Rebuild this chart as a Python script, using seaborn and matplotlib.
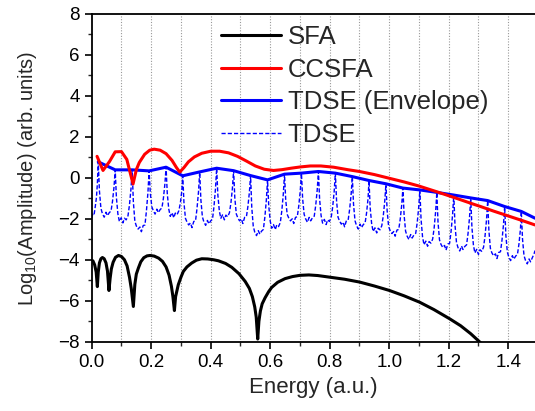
import matplotlib
matplotlib.use("Agg")
import matplotlib.pyplot as plt
import seaborn as sns
from matplotlib.ticker import MultipleLocator

# ---- data ----
sfa_x = [0.004, 0.010, 0.015, 0.019,
         0.022, 0.026, 0.031, 0.036, 0.042, 0.048, 0.053, 0.058,
         0.062, 0.066, 0.072, 0.080, 0.090, 0.100, 0.110, 0.119, 0.127, 0.133, 0.140,
         0.145, 0.150, 0.157, 0.165, 0.175, 0.186, 0.196, 0.210, 0.225, 0.238, 0.250, 0.260, 0.268, 0.273, 0.278,
         0.282, 0.291, 0.300, 0.308, 0.320, 0.336, 0.352, 0.370, 0.390, 0.410, 0.426, 0.450, 0.471, 0.495,
         0.516, 0.530, 0.540, 0.548, 0.553, 0.558,
         0.562, 0.567, 0.573, 0.583, 0.595, 0.605, 0.625, 0.650, 0.675, 0.700, 0.730, 0.760, 0.800,
         0.850, 0.901, 0.950, 1.001, 1.050, 1.102, 1.150, 1.203, 1.240, 1.274, 1.307, 1.340]
sfa_y = [-4.05, -4.25, -4.60, -5.31,
         -4.60, -4.15, -3.95, -3.89, -3.95, -4.15, -4.55, -5.50,
         -4.90, -4.45, -4.12, -3.88, -3.79, -3.84, -4.00, -4.30, -4.85, -5.40, -6.28,
         -5.20, -4.70, -4.40, -4.10, -3.90, -3.81, -3.79, -3.82, -3.92, -4.08, -4.35, -4.75, -5.30, -5.80, -6.48,
         -5.80, -5.22, -4.85, -4.57, -4.35, -4.16, -4.02, -3.95, -3.96, -4.00, -4.05, -4.18, -4.37, -4.68,
         -5.06, -5.40, -5.80, -6.30, -6.80, -7.87,
         -7.00, -6.50, -6.15, -5.85, -5.55, -5.35, -5.10, -4.92, -4.82, -4.76, -4.74, -4.77, -4.85,
         -4.95, -5.09, -5.28, -5.50, -5.76, -6.07, -6.43, -6.88, -7.22, -7.61, -8.05, -8.50]

ccsfa_x = [0.018, 0.038, 0.060, 0.079, 0.100, 0.118, 0.139, 0.150, 0.160, 0.178, 0.195,
           0.210, 0.230, 0.250, 0.270, 0.285, 0.296, 0.310, 0.325, 0.345, 0.370, 0.400,
           0.430, 0.460, 0.490, 0.520, 0.550, 0.580, 0.611, 0.640, 0.670, 0.700, 0.735,
           0.770, 0.813, 0.860, 0.900, 0.950, 1.000, 1.050, 1.100, 1.160, 1.220, 1.280,
           1.307, 1.350, 1.400, 1.450, 1.490]
ccsfa_y = [1.05, 0.36, 0.80, 1.27, 1.28, 0.90, -0.30, 0.40, 0.75, 1.15, 1.35,
           1.40, 1.35, 1.18, 0.85, 0.50, 0.28, 0.50, 0.78, 1.02, 1.20, 1.30,
           1.30, 1.22, 1.05, 0.82, 0.58, 0.42, 0.36, 0.40, 0.47, 0.53, 0.58,
           0.58, 0.52, 0.40, 0.31, 0.16, -0.02, -0.20, -0.40, -0.68, -0.97, -1.27,
           -1.40, -1.62, -1.86, -2.10, -2.30]

env_x = [0.022, 0.079, 0.136, 0.193, 0.250, 0.306, 0.363, 0.420, 0.477, 0.534, 0.591,
         0.648, 0.705, 0.762, 0.819, 0.876, 0.932, 0.989, 1.046, 1.103, 1.160, 1.217,
         1.274, 1.331, 1.388, 1.444, 1.490]
env_y = [0.78, 0.39, 0.39, 0.34, 0.52, 0.10, 0.29, 0.47, 0.35, 0.11, -0.10,
         0.18, 0.23, 0.31, 0.23, 0.06, -0.13, -0.29, -0.50, -0.59, -0.71, -0.84,
         -0.98, -1.11, -1.40, -1.64, -1.97]

tdse_x = [0.000, 0.004, 0.008, 0.012, 0.016, 0.019,
          0.022, 0.026, 0.031, 0.036, 0.042, 0.048, 0.053, 0.059, 0.065, 0.070, 0.075,
          0.079, 0.083, 0.088, 0.093, 0.099, 0.105, 0.110, 0.116, 0.122, 0.127, 0.132,
          0.136, 0.140, 0.145, 0.150, 0.156, 0.162, 0.167, 0.173, 0.179, 0.184, 0.189,
          0.193, 0.197, 0.202, 0.207, 0.213, 0.219, 0.224, 0.230, 0.236, 0.241, 0.246,
          0.250, 0.254, 0.259, 0.264, 0.270, 0.276, 0.281, 0.287, 0.293, 0.298, 0.303,
          0.306, 0.310, 0.315, 0.320, 0.326, 0.332, 0.337, 0.343, 0.349, 0.354, 0.359,
          0.363, 0.367, 0.372, 0.377, 0.383, 0.389, 0.394, 0.400, 0.406, 0.411, 0.416,
          0.420, 0.424, 0.429, 0.434, 0.440, 0.446, 0.451, 0.457, 0.463, 0.468, 0.473,
          0.477, 0.481, 0.486, 0.491, 0.497, 0.503, 0.508, 0.514, 0.520, 0.525, 0.530,
          0.534, 0.538, 0.543, 0.548, 0.554, 0.560, 0.565, 0.571, 0.577, 0.582, 0.587,
          0.591, 0.595, 0.600, 0.605, 0.611, 0.617, 0.622, 0.628, 0.634, 0.639, 0.644,
          0.648, 0.652, 0.657, 0.662, 0.668, 0.674, 0.679, 0.685, 0.691, 0.696, 0.701,
          0.705, 0.709, 0.714, 0.719, 0.725, 0.731, 0.736, 0.742, 0.748, 0.753, 0.758,
          0.762, 0.766, 0.771, 0.776, 0.782, 0.788, 0.793, 0.799, 0.805, 0.810, 0.815,
          0.819, 0.823, 0.828, 0.833, 0.839, 0.845, 0.850, 0.856, 0.862, 0.867, 0.872,
          0.876, 0.880, 0.885, 0.890, 0.896, 0.902, 0.907, 0.913, 0.919, 0.924, 0.929,
          0.932, 0.936, 0.941, 0.946, 0.952, 0.958, 0.963, 0.969, 0.975, 0.980, 0.985,
          0.989, 0.993, 0.998, 1.003, 1.009, 1.015, 1.020, 1.026, 1.032, 1.037, 1.042,
          1.046, 1.050, 1.055, 1.060, 1.066, 1.072, 1.077, 1.083, 1.089, 1.094, 1.099,
          1.103, 1.107, 1.112, 1.117, 1.123, 1.129, 1.134, 1.140, 1.146, 1.151, 1.156,
          1.160, 1.164, 1.169, 1.174, 1.180, 1.186, 1.191, 1.197, 1.203, 1.208, 1.213,
          1.217, 1.221, 1.226, 1.231, 1.237, 1.243, 1.248, 1.254, 1.260, 1.265, 1.270,
          1.274, 1.278, 1.283, 1.288, 1.294, 1.300, 1.305, 1.311, 1.317, 1.322, 1.327,
          1.331, 1.335, 1.340, 1.345, 1.351, 1.357, 1.362, 1.368, 1.374, 1.379, 1.384,
          1.388, 1.392, 1.397, 1.402, 1.408, 1.414, 1.419, 1.425, 1.431, 1.436, 1.441,
          1.444, 1.448, 1.453, 1.458, 1.464, 1.470, 1.475, 1.481, 1.487, 1.490]
tdse_y = [-1.95, -1.75, -1.80, -1.40, -0.95, -0.30,
          0.78, -0.64, -1.49, -1.75, -1.92, -1.68, -1.85, -1.70, -1.62, -1.14, -0.44,
          0.39, -0.95, -1.76, -2.13, -1.95, -2.20, -1.97, -2.05, -1.85, -1.32, -0.54,
          0.39, -1.17, -2.11, -2.35, -2.50, -2.40, -2.63, -2.33, -2.30, -1.61, -0.72,
          0.34, -0.75, -1.41, -1.60, -1.77, -1.53, -1.70, -1.55, -1.47, -1.00, -0.30,
          0.52, -0.76, -1.52, -1.88, -1.70, -1.95, -1.72, -1.80, -1.60, -1.23, -0.62,
          0.10, -1.19, -1.97, -2.15, -2.30, -2.20, -2.43, -2.13, -2.10, -1.49, -0.68,
          0.29, -1.08, -1.90, -2.15, -2.32, -2.08, -2.25, -2.10, -2.02, -1.40, -0.54,
          0.47, -0.83, -1.62, -1.98, -1.80, -2.05, -1.82, -1.90, -1.70, -1.22, -0.50,
          0.35, -0.97, -1.76, -1.95, -2.10, -2.00, -2.23, -1.93, -1.90, -1.40, -0.71,
          0.11, -1.44, -2.36, -2.65, -2.82, -2.58, -2.75, -2.60, -2.52, -1.92, -1.09,
          -0.10, -1.35, -2.11, -2.46, -2.28, -2.53, -2.30, -2.38, -2.18, -1.61, -0.79,
          0.18, -1.05, -1.78, -1.95, -2.10, -2.00, -2.23, -1.93, -1.90, -1.37, -0.64,
          0.23, -1.02, -1.78, -2.00, -2.17, -1.93, -2.10, -1.95, -1.87, -1.34, -0.59,
          0.31, -1.03, -1.84, -2.21, -2.03, -2.28, -2.05, -2.13, -1.93, -1.42, -0.67,
          0.23, -1.11, -1.92, -2.11, -2.26, -2.16, -2.39, -2.09, -2.06, -1.53, -0.80,
          0.06, -1.28, -2.09, -2.33, -2.50, -2.26, -2.43, -2.28, -2.20, -1.70, -0.98,
          -0.13, -1.46, -2.25, -2.62, -2.44, -2.69, -2.46, -2.54, -2.34, -1.86, -1.14,
          -0.29, -1.60, -2.38, -2.57, -2.72, -2.62, -2.85, -2.55, -2.52, -2.02, -1.32,
          -0.50, -1.81, -2.60, -2.84, -3.01, -2.77, -2.94, -2.79, -2.71, -2.20, -1.46,
          -0.59, -2.02, -2.88, -3.27, -3.09, -3.34, -3.11, -3.19, -2.99, -2.45, -1.65,
          -0.71, -2.16, -3.03, -3.25, -3.40, -3.30, -3.53, -3.23, -3.20, -2.60, -1.79,
          -0.84, -2.28, -3.14, -3.40, -3.57, -3.33, -3.50, -3.35, -3.27, -2.71, -1.92,
          -0.98, -2.42, -3.28, -3.67, -3.49, -3.74, -3.51, -3.59, -3.39, -2.85, -2.05,
          -1.11, -2.57, -3.44, -3.66, -3.81, -3.71, -3.94, -3.64, -3.61, -3.05, -2.30,
          -1.40, -2.79, -3.62, -3.87, -4.04, -3.80, -3.97, -3.82, -3.74, -3.24, -2.51,
          -1.64, -2.98, -3.79, -4.03, -4.20, -3.96, -4.10, -3.90, -3.70, -3.55]

# ---- plot ----
sns.set_theme(style="ticks")
plt.rcParams["font.family"] = ["Liberation Sans", "DejaVu Sans"]
plt.rcParams["mathtext.fontset"] = "custom"
plt.rcParams["mathtext.rm"] = "Liberation Sans"
plt.rcParams["mathtext.it"] = "Liberation Sans:italic"

fig = plt.figure(figsize=(5.35, 4.11), dpi=100)
ax = fig.add_axes([0.1714, 0.1686, 0.8286, 0.7974])

# dotted vertical guides every 0.1
for xv in [0.1 * i for i in range(1, 15)]:
    ax.axvline(xv, color="#999999", lw=0.8, ls=(0, (1, 1.5)), zorder=0)

sns.lineplot(x=tdse_x, y=tdse_y, ax=ax, color="#0000ff", lw=1.0,
             linestyle=(0, (3, 1.5)), sort=False, estimator=None, label="TDSE")
sns.lineplot(x=env_x, y=env_y, ax=ax, color="#0000ff", lw=2.2,
             sort=False, estimator=None, label="TDSE (Envelope)")
sns.lineplot(x=ccsfa_x, y=ccsfa_y, ax=ax, color="#ff0000", lw=2.2,
             sort=False, estimator=None, label="CCSFA")
sns.lineplot(x=sfa_x, y=sfa_y, ax=ax, color="black", lw=2.2,
             sort=False, estimator=None, label="SFA")

ax.set_xlim(0, 1.49)
ax.set_ylim(-8, 8)
ax.xaxis.set_major_locator(MultipleLocator(0.2))
ax.xaxis.set_minor_locator(MultipleLocator(0.1))
ax.yaxis.set_major_locator(MultipleLocator(2))
ax.yaxis.set_minor_locator(MultipleLocator(1))
ax.xaxis.set_major_formatter(plt.FuncFormatter(lambda v, p: f"{v:.1f}"))
ax.tick_params(which="major", direction="out", length=5, width=1.2, labelsize=13.5, colors="black")
ax.tick_params(which="minor", direction="out", length=3, width=1.0)
ax.tick_params(top=False, right=False)
for side in ["left", "bottom", "top"]:
    ax.spines[side].set_linewidth(1.3)
    ax.spines[side].set_color("black")
ax.spines["right"].set_visible(False)

ax.set_xlabel("Energy (a.u.)", fontsize=16, labelpad=5)
ax.set_ylabel("Log$_{10}$(Amplitude) (arb. units)", fontsize=14.5, labelpad=14)

handles, labels = ax.get_legend_handles_labels()
order = [3, 2, 1, 0]
ax.legend([handles[i] for i in order], [labels[i] for i in order],
          loc="upper left", bbox_to_anchor=(0.268, 0.998), frameon=False,
          fontsize=18.5, handlelength=2.33, handletextpad=0.27, labelspacing=0.34,
          borderaxespad=0)

fig.savefig("out.png", dpi=100)
